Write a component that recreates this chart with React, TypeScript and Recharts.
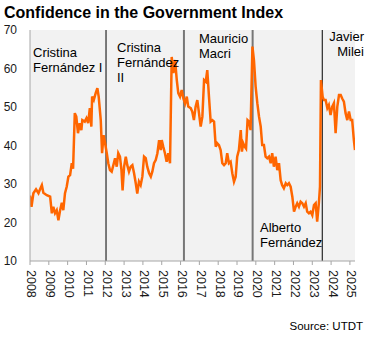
import React from 'react';
import { LineChart, Line, XAxis, YAxis, CartesianGrid, ReferenceLine } from 'recharts';

// ---- Data (decimal year, index value) ----
const cfk1: [number, number][] = [
  [2008.00, 27.0], [2008.08, 24.1], [2008.18, 27.6], [2008.32, 28.6], [2008.45, 27.6], [2008.54, 28.7],
  [2008.63, 29.7], [2008.71, 27.7], [2008.89, 27.1], [2009.07, 26.7], [2009.16, 22.4], [2009.24, 24.1],
  [2009.33, 22.4], [2009.42, 23.2], [2009.51, 20.6], [2009.60, 23.2], [2009.69, 25.1], [2009.77, 23.2],
  [2009.86, 27.6], [2009.95, 29.3], [2010.04, 31.9], [2010.13, 32.3], [2010.22, 35.4], [2010.29, 34.0],
  [2010.38, 48.4], [2010.46, 47.5], [2010.55, 43.2], [2010.64, 45.8], [2010.73, 44.0], [2010.78, 46.6],
  [2010.91, 46.2], [2011.00, 47.1], [2011.09, 45.8], [2011.18, 49.7], [2011.26, 44.9], [2011.30, 52.7],
  [2011.39, 51.8], [2011.49, 53.6], [2011.58, 54.9], [2011.65, 52.7], [2011.76, 46.6], [2011.83, 38.0],
  [2011.91, 42.7], [2011.99, 40.6],
];
const cfk2: [number, number][] = [
  [2012.08, 38.0], [2012.16, 35.4], [2012.25, 33.6], [2012.34, 33.2], [2012.43, 34.9], [2012.52, 36.7],
  [2012.61, 34.5], [2012.69, 38.0], [2012.78, 37.1], [2012.86, 33.6], [2012.92, 28.3], [2013.00, 34.5],
  [2013.09, 37.1], [2013.17, 34.9], [2013.26, 33.2], [2013.35, 34.5], [2013.44, 34.9], [2013.53, 32.8],
  [2013.62, 30.2], [2013.70, 27.5], [2013.79, 30.6], [2013.88, 29.7], [2013.97, 31.9], [2014.06, 37.1],
  [2014.15, 36.7], [2014.23, 34.5], [2014.33, 32.8], [2014.42, 31.9], [2014.50, 33.2], [2014.59, 35.4],
  [2014.68, 36.2], [2014.77, 38.0], [2014.86, 41.4], [2014.95, 38.8], [2015.00, 41.4], [2015.08, 39.7],
  [2015.17, 38.0], [2015.26, 35.8], [2015.35, 38.0], [2015.44, 35.4], [2015.53, 63.0], [2015.62, 58.8],
  [2015.71, 62.2], [2015.80, 57.0], [2015.88, 53.6], [2015.97, 52.7], [2016.06, 54.4], [2016.15, 52.2],
];
const macri: [number, number][] = [
  [2016.24, 50.9], [2016.33, 52.7], [2016.41, 50.1], [2016.54, 49.7], [2016.62, 48.8], [2016.71, 46.6],
  [2016.80, 50.1], [2016.89, 51.8], [2016.98, 48.4], [2017.07, 44.9], [2017.16, 47.5], [2017.25, 57.0],
  [2017.34, 56.6], [2017.42, 59.6], [2017.51, 52.7], [2017.60, 46.2], [2017.69, 46.6], [2017.78, 46.2],
  [2017.87, 39.7], [2017.95, 40.6], [2018.04, 40.1], [2018.13, 38.8], [2018.22, 35.4], [2018.31, 34.9],
  [2018.40, 35.4], [2018.48, 38.0], [2018.57, 35.4], [2018.66, 35.8], [2018.75, 32.8], [2018.84, 30.6],
  [2018.93, 31.9], [2019.01, 37.1], [2019.10, 38.8], [2019.20, 44.0], [2019.26, 38.4], [2019.33, 40.6],
  [2019.41, 39.7], [2019.48, 39.2], [2019.56, 46.6], [2019.64, 46.2], [2019.72, 44.0],
];
const alberto: [number, number][] = [
  [2019.82, 65.7], [2019.90, 62.2], [2019.99, 55.3], [2020.08, 51.0], [2020.17, 47.5], [2020.26, 44.9],
  [2020.34, 40.1], [2020.43, 40.1], [2020.52, 37.1], [2020.61, 36.7], [2020.70, 37.1], [2020.79, 35.4],
  [2020.87, 38.0], [2020.96, 34.5], [2021.05, 37.1], [2021.14, 33.6], [2021.23, 35.4], [2021.32, 31.0],
  [2021.40, 29.7], [2021.49, 28.9], [2021.59, 30.2], [2021.67, 29.7], [2021.76, 30.2], [2021.85, 29.3],
  [2021.94, 26.7], [2022.03, 22.8], [2022.12, 24.1], [2022.20, 25.0], [2022.29, 24.1], [2022.38, 25.4],
  [2022.47, 25.0], [2022.56, 24.1], [2022.65, 25.0], [2022.73, 22.8], [2022.82, 22.4], [2022.91, 22.8],
  [2023.00, 21.9], [2023.09, 24.5], [2023.18, 25.0], [2023.26, 20.2], [2023.35, 25.0], [2023.41, 29.3],
];
const milei: [number, number][] = [
  [2023.46, 57.0], [2023.55, 52.7], [2023.62, 51.8], [2023.71, 51.8], [2023.80, 49.7], [2023.88, 50.5],
  [2023.97, 47.9], [2024.06, 50.1], [2024.15, 51.0], [2024.24, 43.2], [2024.33, 50.1], [2024.42, 53.1],
  [2024.51, 53.1], [2024.59, 52.2], [2024.68, 51.4], [2024.77, 48.4], [2024.86, 46.6], [2024.95, 48.8],
  [2025.04, 46.6], [2025.12, 46.6], [2025.21, 41.4], [2025.27, 38.8],
];

const years = [2008, 2009, 2010, 2011, 2012, 2013, 2014, 2015, 2016, 2017, 2018, 2019, 2020, 2021, 2022, 2023, 2024, 2025];
const yTicks = [10, 20, 30, 40, 50, 60, 70];
const changeDates = [2012.04, 2016.18, 2019.83, 2023.53];
const changeColors = ['#000000', '#777777', '#777777', '#000000'];
const changeWidths = [1, 2, 2, 1];

const title = 'Confidence in the Government Index';
const source = 'Source: UTDT';

const data = [...cfk1, ...cfk2, ...macri, ...alberto, ...milei].map(([t, v]) => ({ t, v }));

const FONT = '"Liberation Sans", Arial, Helvetica, sans-serif';

const YearTick = (props: any) => {
  const { x, y, payload } = props;
  return (
    <text
      x={x}
      y={y}
      dx={3}
      dy={-1.4}
      transform={`rotate(90, ${x}, ${y})`}
      textAnchor="start"
      dominantBaseline="central"
      fontSize={12.5}
      fontFamily={FONT}
      fill="#1a1a1a"
    >
      {payload.value}
    </text>
  );
};

export default function App() {
  const ann = { fontSize: 13, fontFamily: FONT, fill: '#000' } as const;
  return (
    <div style={{ position: 'absolute', left: 0, top: 0, width: 375, height: 338, background: '#fff' }}>
      <LineChart width={375} height={338} data={data} margin={{ top: 30, right: 20, bottom: 37, left: 0 }}>
        <CartesianGrid fill="#f2f2f2" stroke="none" horizontal={false} vertical={false} />
        <XAxis
          type="number"
          dataKey="t"
          domain={[2008, 2025.27]}
          ticks={years}
          interval={0}
          allowDataOverflow
          height={40}
          tickSize={4}
          tickMargin={2}
          axisLine={{ stroke: '#a6a6a6' }}
          tickLine={{ stroke: '#a6a6a6' }}
          tick={<YearTick />}
        />
        <YAxis
          type="number"
          domain={[10, 70]}
          ticks={yTicks}
          interval={0}
          width={30}
          tickLine={false}
          tickSize={0}
          tickMargin={13}
          axisLine={{ stroke: '#a6a6a6' }}
          tick={{ fill: '#1a1a1a', fontSize: 12, fontFamily: FONT }}
        />
        {changeDates.map((d, i) => (
          <ReferenceLine key={d} x={d} stroke={changeColors[i]} strokeWidth={changeWidths[i]} />
        ))}
        <Line
          type="linear"
          dataKey="v"
          stroke="#ff6600"
          strokeWidth={2.5}
          dot={false}
          isAnimationActive={false}
        />
      </LineChart>
      <svg width={375} height={338} style={{ position: 'absolute', left: 0, top: 0, pointerEvents: 'none' }}>
        <text x={4} y={18} fontSize={16} fontWeight="bold" fontFamily={FONT} fill="#000">{title}</text>
        <text x={33} y={56.7} {...ann}>Cristina</text>
        <text x={33} y={71.7} {...ann}>Fernández I</text>
        <text x={117} y={51.7} {...ann}>Cristina</text>
        <text x={117} y={66.7} {...ann}>Fernández</text>
        <text x={117} y={81.7} {...ann}>II</text>
        <text x={199} y={42.5} {...ann}>Mauricio</text>
        <text x={199} y={57.5} {...ann}>Macri</text>
        <text x={260} y={231.5} {...ann}>Alberto</text>
        <text x={260} y={246.5} {...ann}>Fernández</text>
        <text x={364} y={41} textAnchor="end" {...ann}>Javier</text>
        <text x={364} y={55.5} textAnchor="end" {...ann}>Milei</text>
        <text x={363} y={330} textAnchor="end" fontSize={11.5} fontFamily={FONT} fill="#000">{source}</text>
      </svg>
    </div>
  );
}
